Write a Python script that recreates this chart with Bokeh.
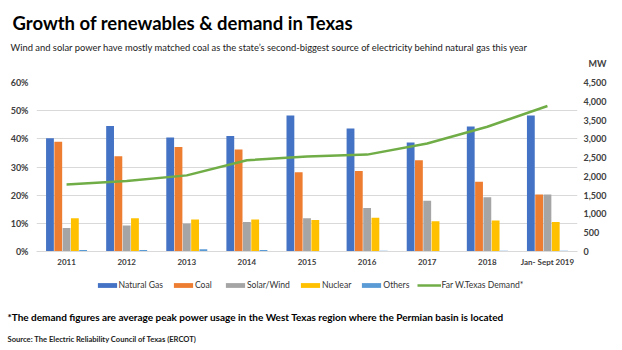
from bokeh.plotting import figure
from bokeh.layouts import column
from bokeh.models import (ColumnDataSource, FactorRange, Range1d, LinearAxis, FixedTicker,
                          PrintfTickFormatter, NumeralTickFormatter, Legend, LegendItem, Label)
from bokeh.transform import dodge
from bokeh.embed import file_html
from bokeh.resources import INLINE

years = ["2011", "2012", "2013", "2014", "2015", "2016", "2017", "2018", "Jan- Sept 2019"]
natural_gas = [40.2, 44.6, 40.5, 41.0, 48.3, 43.7, 38.7, 44.4, 48.3]
coal = [39.0, 33.8, 37.1, 36.2, 28.1, 28.6, 32.4, 24.8, 20.2]
solar_wind = [8.3, 9.2, 9.9, 10.5, 11.8, 15.4, 18.0, 19.3, 20.2]
nuclear = [11.8, 11.8, 11.4, 11.4, 11.2, 12.0, 10.7, 11.0, 10.5]
others = [0.5, 0.5, 0.8, 0.5, 0.2, 0.3, 0.2, 0.3, 0.3]
demand_mw = [1786, 1875, 2027, 2429, 2527, 2580, 2875, 3321, 3875]

pct_ticks = [0, 10, 20, 30, 40, 50, 60]
mw_ticks = [0, 500, 1000, 1500, 2000, 2500, 3000, 3500, 4000, 4500]

FONT = "Lato"
TXT = "#404040"
HEAD_H, MAIN_H, FOOT_H = 75, 197, 78

series = [("gas", "Natural Gas", "#4472C4"), ("coal", "Coal", "#ED7D31"),
          ("solar", "Solar/Wind", "#A5A5A5"), ("nuclear", "Nuclear", "#FFC000"),
          ("others", "Others", "#5B9BD5")]
LINE_NAME, LINE_COLOR = "Far W.Texas Demand*", "#70AD47"


def blank(h):
    f = figure(width=622, height=h, x_range=Range1d(0, 1), y_range=Range1d(0, 1),
               x_axis_type=None, y_axis_type=None, output_backend="svg", toolbar_location=None,
               min_border=0, min_border_left=0, min_border_right=0, min_border_top=0,
               min_border_bottom=0, frame_align=False)
    f.outline_line_color = None
    f.xgrid.visible = False
    f.ygrid.visible = False
    return f


def lab(f, fh, top, text, cx, cy, size, bold=False, color="#111111"):
    f.add_layout(Label(x=cx, y=fh - (cy - top), x_units="screen", y_units="screen", text=text,
                       text_font=FONT, text_font_size=size,
                       text_font_style="bold" if bold else "normal",
                       text_color=color, text_baseline="middle", text_align="left"))


# header
head = blank(HEAD_H)
lab(head, HEAD_H, 0, "Growth of renewables & demand in Texas", 12, 22, "18.5px", True, "#000000")
lab(head, HEAD_H, 0, "Wind and solar power have mostly matched coal as the state\u2019s second-biggest source of electricity behind natural gas this year",
    10, 47, "9.4px", False, "#222222")
lab(head, HEAD_H, 0, "MW", 588, 63, "9px", True, TXT)

# main chart
src = ColumnDataSource(dict(year=years, gas=natural_gas, coal=coal, solar=solar_wind,
                            nuclear=nuclear, others=others, demand=demand_mw))

p = figure(width=622, height=MAIN_H, x_range=FactorRange(factors=years), y_range=Range1d(0, 60),
           output_backend="svg", toolbar_location=None, frame_align=False,
           min_border_left=36, min_border_right=45, min_border_top=7, min_border_bottom=21)
p.outline_line_color = None
p.extra_y_ranges = {"mw": Range1d(0, 4500)}

offsets = [-0.276, -0.138, 0.0, 0.138, 0.276]
for (col, name, color), off in zip(series, offsets):
    p.vbar(x=dodge("year", off, range=p.x_range), top=col, width=0.13, source=src,
           fill_color=color, line_color=None)

p.line(x="year", y="demand", source=src, y_range_name="mw", line_color=LINE_COLOR, line_width=2.5)

p.yaxis.ticker = FixedTicker(ticks=pct_ticks)
p.yaxis.formatter = PrintfTickFormatter(format="%d%%")
right = LinearAxis(y_range_name="mw", ticker=FixedTicker(ticks=mw_ticks),
                   formatter=NumeralTickFormatter(format="0,0"))
p.add_layout(right, "right")
for ax in [p.yaxis[0], right, p.xaxis[0]]:
    ax.major_tick_line_color = None
    ax.minor_tick_line_color = None
    ax.major_tick_out = 0
    ax.major_tick_in = 0
    ax.minor_tick_out = 0
    ax.major_label_text_font = FONT
    ax.major_label_text_font_style = "bold"
    ax.major_label_text_color = TXT
for ax in [p.yaxis[0], right]:
    ax.axis_line_color = None
    ax.major_label_text_font_size = "9px"
p.yaxis[0].major_label_standoff = 8
right.major_label_standoff = 6

p.xaxis.axis_line_color = "#d9d9d9"
p.xaxis.major_label_text_font_size = "8px"
p.xaxis.major_label_standoff = 5

p.xgrid.grid_line_color = None
p.ygrid.ticker = FixedTicker(ticks=pct_ticks)
p.ygrid.grid_line_color = "#d9d9d9"

# footer with legend (keys share the chart series' styles; their points lie outside the view)
foot = blank(FOOT_H)
items = []
for col, name, color in series:
    r = foot.vbar(x=[-5], top=[0], width=1, fill_color=color, line_color=None)
    items.append(LegendItem(label=name, renderers=[r]))
rl = foot.line(x=[-6, -5], y=[0, 0], line_color=LINE_COLOR, line_width=2.5)
items.append(LegendItem(label=LINE_NAME, renderers=[rl]))
legend = Legend(items=items, orientation="horizontal", location=(94.6, 59),
                spacing=8, label_standoff=0, glyph_width=24, glyph_height=6,
                padding=0, margin=0, label_height=12, border_line_color=None,
                background_fill_alpha=0, label_text_font=FONT, label_text_font_size="8.6px",
                label_text_color="#333333")
foot.add_layout(legend, "center")

top = HEAD_H + MAIN_H
lab(foot, FOOT_H, top, "*The demand figures are average peak power usage in the West Texas region where the Permian basin is located",
    7, 316, "10px", True, "#000000")
lab(foot, FOOT_H, top, "Source: The Electric Reliability Council of Texas (ERCOT)", 7, 338, "7.6px", True, "#222222")

layout = column(head, p, foot, spacing=0)
open("out.html", "w").write(file_html(layout, INLINE))
